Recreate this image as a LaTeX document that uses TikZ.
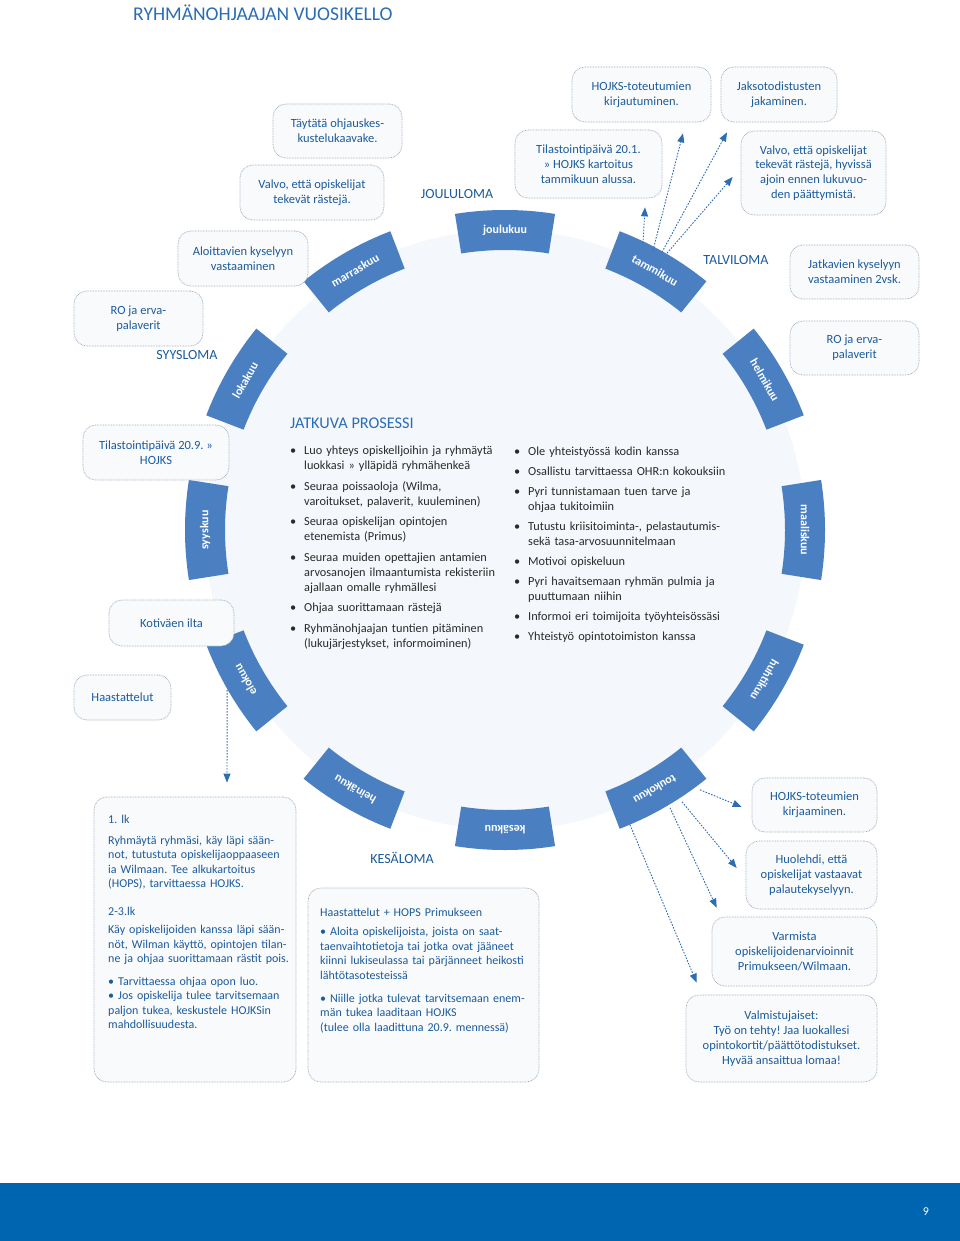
\documentclass[tikz,border=0pt]{standalone}
\usepackage{fontspec}
\setmainfont{Carlito}
\usetikzlibrary{arrows.meta,calc}
\frenchspacing
\definecolor{txtblue}{HTML}{1C5B9C}
\definecolor{titleblue}{HTML}{2A6DB5}
\definecolor{bandblue}{HTML}{4A7FC1}
\definecolor{arrblue}{HTML}{2F6DB3}
\definecolor{boxline}{HTML}{9FAEBF}
\definecolor{boxfill}{HTML}{F8FAFC}
\definecolor{circfill}{HTML}{F4F7FB}
\definecolor{listtxt}{HTML}{2A2A2A}
\definecolor{footblue}{HTML}{0065B0}
\newcommand\JL[1]{\makebox[\hsize][s]{#1}}
\newcommand\bul[1]{\hangindent=14pt\hangafter=1\noindent\makebox[14pt][l]{•}#1\par}
\tikzset{
 bx/.style={draw=boxline, line width=0.7pt, dash pattern=on 0.8pt off 0.8pt, fill=boxfill, rounded corners=13pt, align=center, text=txtblue, font=\fontsize{12.5}{14.8}\selectfont, inner sep=0pt},
 lbl/.style={text=txtblue, font=\fontsize{14}{16}\selectfont, inner sep=0pt},
 monlbl/.style={text=white, font=\bfseries\fontsize{12}{14}\selectfont, inner sep=1pt},
 arr/.style={arrblue, line width=0.9pt, dash pattern=on 1.6pt off 1.4pt, -{Triangle[length=9pt,width=7pt]}},
 lst/.style={anchor=north west, text width=235pt, align=left, inner sep=0pt, text=listtxt, font=\fontsize{12.3}{15}\selectfont},
 bigtxt/.style={anchor=north west, align=left, inner sep=0pt, text=txtblue, font=\fontsize{12}{14.5}\selectfont},
}
\begin{document}
\begin{tikzpicture}[x=1pt,y=1pt]
\useasboundingbox (0,0) rectangle (960,-1241);
\fill[white] (0,0) rectangle (960,-1241);
\fill[footblue] (0,-1183) rectangle (960,-1241);
\node[text=white,font=\fontsize{12}{14}\selectfont] (pnum) at (926,-1212) {9};
\node[anchor=west,text=titleblue,font=\fontsize{19.5}{22}\selectfont,inner sep=0pt] (title) at (133,-13) {RYHMÄNOHJAAJAN VUOSIKELLO};

% circle
\fill[circfill] (505,-530) circle[radius=300pt];
\begin{scope}[shift={(505,-530)}]
\foreach \a/\n/\t in {90/joulu/joulukuu, 60/tammi/tammikuu, 30/helmi/helmikuu, 0/maalis/maaliskuu, -30/huhti/huhtikuu, -60/touko/toukokuu, -90/kesa/kesäkuu, -120/heina/heinäkuu, -150/elo/elokuu, 180/syys/syyskuu, 150/loka/lokakuu, 120/marras/marraskuu}{
  \fill[bandblue] (\a-9:280pt) arc[start angle=\a-9, end angle=\a+9, radius=280pt] -- (\a+9:320pt) arc[start angle=\a+9, end angle=\a-9, radius=320pt] -- cycle;
  \node[monlbl, rotate=\a-90] (\n) at (\a:300pt) {\t};
}
\end{scope}

% labels
\node[lbl] (joululoma) at (457,-194) {JOULULOMA};
\node[lbl] (talviloma) at (736,-260) {TALVILOMA};
\node[lbl] (syysloma) at (187,-355) {SYYSLOMA};
\node[lbl] (kesaloma) at (402,-858) {KESÄLOMA};
\node[anchor=west,text=titleblue,font=\fontsize{16.3}{18}\selectfont,inner sep=0pt] (jatkuva) at (290,-423) {JATKUVA PROSESSI};

% boxes
\node[bx, minimum width=129pt, minimum height=54pt] (b1) at (337.5,-131) {Täytätä ohjauskes-\\kustelukaavake.};
\node[bx, minimum width=144pt, minimum height=55pt] (b2) at (312,-192.5) {Valvo, että opiskelijat\\tekevät rästejä.};
\node[bx, minimum width=130pt, minimum height=55pt] (b3) at (243,-258.5) {Aloittavien kyselyyn\\vastaaminen};
\node[bx, minimum width=129pt, minimum height=55pt] (b4) at (138.5,-318.5) {RO ja erva-\\palaverit};
\node[bx, minimum width=146pt, minimum height=55pt] (b5) at (156,-452.5) {Tilastointipäivä 20.9. »\\HOJKS};
\node[bx, minimum width=125pt, minimum height=46pt] (b6) at (171.5,-623) {Kotiväen ilta};
\node[bx, minimum width=97pt, minimum height=45pt] (b7) at (122.5,-697.5) {Haastattelut};
\node[bx, minimum width=202pt, minimum height=285pt] (b8) at (195,-939.5) {};
\node[bx, minimum width=231pt, minimum height=194pt] (b9) at (423.5,-985) {};
\node[bx, minimum width=139pt, minimum height=55pt] (b10) at (641.5,-94.5) {HOJKS-toteutumien\\kirjautuminen.};
\node[bx, minimum width=116pt, minimum height=55pt] (b11) at (779,-94.5) {Jaksotodistusten\\jakaminen.};
\node[bx, minimum width=147pt, minimum height=68pt] (b12) at (588.5,-164) {Tilastointipäivä 20.1.\\» HOJKS kartoitus\\tammikuun alussa.};
\node[bx, minimum width=145pt, minimum height=84pt] (b13) at (813.5,-173) {Valvo, että opiskelijat\\tekevät rästejä, hyvissä\\ajoin ennen lukuvuo-\\den päättymistä.};
\node[bx, minimum width=129pt, minimum height=54pt] (b14) at (854.5,-272) {Jatkavien kyselyyn\\vastaaminen 2vsk.};
\node[bx, minimum width=129pt, minimum height=54pt] (b15) at (854.5,-348) {RO ja erva-\\palaverit};
\node[bx, minimum width=125pt, minimum height=54pt] (b16) at (814.5,-805) {HOJKS-toteumien\\kirjaaminen.};
\node[bx, minimum width=131pt, minimum height=68pt] (b17) at (811.5,-875) {Huolehdi, että\\opiskelijat vastaavat\\palautekyselyyn.};
\node[bx, minimum width=165pt, minimum height=69pt] (b18) at (794.5,-951.5) {Varmista\\opiskelijoidenarvioinnit\\Primukseen/Wilmaan.};
\node[bx, minimum width=191pt, minimum height=87pt] (b19) at (781.5,-1038.5) {Valmistujaiset:\\Työ on tehty! Jaa luokallesi\\opintokortit/päättötodistukset.\\Hyvää ansaittua lomaa!};

% big box texts
\node[bigtxt, text width=177pt] (b8t) at (108,-815) {%
1. lk\\[6pt]
\JL{Ryhmäytä ryhmäsi, käy läpi sään-}\\
\JL{not, tutustuta opiskelijaoppaaseen}\\
\JL{ia Wilmaan. Tee alkukartoitus}\\
(HOPS), tarvittaessa HOJKS.\\[13pt]
2-3.lk\\[4pt]
\JL{Käy opiskelijoiden kanssa läpi sään-}\\
\JL{nöt, Wilman käyttö, opintojen tilan-}\\
\JL{ne ja ohjaa suorittamaan rästit pois.}\\[8pt]
• Tarvittaessa ohjaa opon luo.\\
\JL{• Jos opiskelija tulee tarvitsemaan}\\
\JL{paljon tukea, keskustele HOJKSin}\\
mahdollisuudesta.};
\node[bigtxt, text width=207pt] (b9t) at (320,-908) {%
Haastattelut + HOPS Primukseen\\[4.5pt]
\JL{• Aloita opiskelijoista, joista on saat-}\\
\JL{taenvaihtotietoja tai jotka ovat jääneet}\\
\JL{kiinni lukiseulassa tai pärjänneet heikosti}\\
lähtötasotesteissä\\[8.5pt]
\JL{• Niille jotka tulevat tarvitsemaan enem-}\\
män tukea laaditaan HOJKS\\
(tulee olla laadittuna 20.9. mennessä)};

% lists
\node[lst] (lst1) at (290,-446) {\setlength\parskip{5.5pt}%
\bul{Luo yhteys opiskelljoihin ja ryhmäytä\newline luokkasi » ylläpidä ryhmähenkeä}
\bul{Seuraa poissaoloja (Wilma,\newline varoitukset, palaverit, kuuleminen)}
\bul{Seuraa opiskelijan opintojen\newline etenemista (Primus)}
\bul{Seuraa muiden opettajien antamien\newline arvosanojen ilmaantumista rekisteriin\newline ajallaan omalle ryhmällesi}
\bul{Ohjaa suorittamaan rästejä}
\bul{Ryhmänohjaajan tuntien pitäminen\newline (lukujärjestykset, informoiminen)}};
\node[lst] (lst2) at (514,-447) {\setlength\parskip{5pt}%
\bul{Ole yhteistyössä kodin kanssa}
\bul{Osallistu tarvittaessa OHR:n kokouksiin}
\bul{Pyri tunnistamaan tuen tarve ja\newline ohjaa tukitoimiin}
\bul{Tutustu kriisitoiminta-, pelastautumis-\newline sekä tasa-arvosuunnitelmaan}
\bul{Motivoi opiskeluun}
\bul{Pyri havaitsemaan ryhmän pulmia ja\newline puuttumaan niihin}
\bul{Informoi eri toimijoita työyhteisössäsi}
\bul{Yhteistyö opintotoimiston kanssa}};

% arrows from tammikuu
\draw[arr] ([xshift=-12pt,yshift=27pt]tammi.center) -- ([xshift=56.5pt,yshift=-9pt]b12.south);
\draw[arr] ([xshift=-2pt,yshift=20pt]tammi.center) -- ([xshift=41.5pt,yshift=-11pt]b10.south);
\draw[arr] ([xshift=7pt,yshift=18pt]tammi.center) -- ([xshift=-52pt,yshift=-10pt]b11.south);
\draw[arr] ([xshift=12pt,yshift=17pt]tammi.center) -- ([xshift=-8pt,yshift=-4pt]b13.west);
% arrows from toukokuu
\draw[arr] ([xshift=45pt,yshift=0pt]touko.center) -- ([xshift=-10pt,yshift=-2pt]b16.west);
\draw[arr] ([xshift=27pt,yshift=-12pt]touko.center) -- ([xshift=-9pt,yshift=7pt]b17.west);
\draw[arr] ([xshift=15pt,yshift=-18pt]touko.center) -- ([xshift=5pt,yshift=9pt]b18.north west);
\draw[arr] ([xshift=-25pt,yshift=-35pt]touko.center) -- ([xshift=11pt,yshift=12pt]b19.north west);
% arrow from elokuu
\draw[arr] ([xshift=-18pt,yshift=-10pt]elo.center) -- ([xshift=32pt,yshift=14pt]b8.north);
\end{tikzpicture}
\end{document}
